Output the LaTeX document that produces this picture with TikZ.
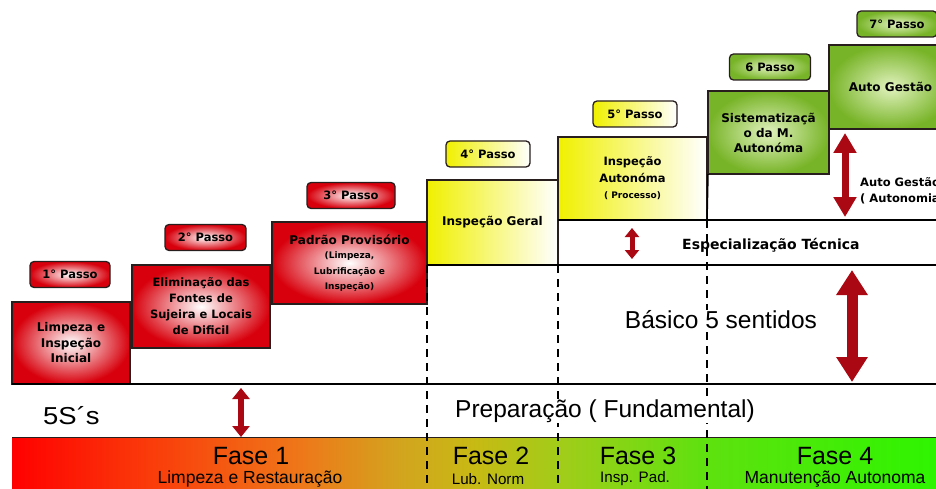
\documentclass[tikz,border=0pt]{standalone}
\usepackage{fontspec}
\usepackage{graphicx}
\setmainfont{Liberation Sans}
\newfontfamily\dejav{DejaVu Sans}
\usetikzlibrary{arrows.meta}
\definecolor{boxred}{RGB}{215,0,12}
\definecolor{boxyel}{RGB}{240,240,0}
\definecolor{boxgrn}{RGB}{120,180,40}
\definecolor{boxgrnin}{RGB}{225,242,190}
\definecolor{arrred}{RGB}{170,8,18}
\definecolor{edge}{RGB}{40,30,30}
\pgfdeclarehorizontalshading{fasebar}{100bp}{%
 color(0bp)=(red!100!black);
 color(25bp)=(red!100!black);
 color(32.5bp)=(rgb,255:red,250;green,60;blue,10);
 color(40.6bp)=(rgb,255:red,238;green,120;blue,25);
 color(46bp)=(rgb,255:red,210;green,165;blue,30);
 color(49.8bp)=(rgb,255:red,200;green,185;blue,20);
 color(54.7bp)=(rgb,255:red,160;green,205;blue,25);
 color(62.2bp)=(rgb,255:red,95;green,225;blue,15);
 color(75bp)=(rgb,255:red,45;green,245;blue,0);
 color(100bp)=(rgb,255:red,45;green,245;blue,0)}
\newcommand\bxf{\fontsize{12}{15.5}\selectfont\dejav\bfseries}
\newcommand\bxt{\fontsize{9}{11}\selectfont\dejav\bfseries}
\begin{document}
\begin{tikzpicture}[x=1pt,y=-1pt,
  stepbox/.style={draw=edge,line width=1.3pt,inner sep=0pt,outer sep=0pt,anchor=north west,align=center,font=\bxf},
  redbox/.style={stepbox,inner color=white,outer color=boxred},
  yelbox/.style={stepbox,left color=boxyel,right color=white},
  grnbox/.style={stepbox,inner color=boxgrnin,outer color=boxgrn},
  passo/.style={draw=edge,line width=1.3pt,rounded corners=4pt,minimum height=26pt,
     inner sep=0pt,font=\fontsize{11.5}{13}\selectfont\dejav\bfseries},
  redpasso/.style={passo,inner color=white,outer color=boxred},
  yelpasso/.style={passo,left color=boxyel,right color=white},
  grnpasso/.style={passo,inner color=boxgrnin,outer color=boxgrn},
  baseline/.style={line width=1.8pt,black},
  dashv/.style={line width=1.8pt,black,dash pattern=on 8pt off 6pt},
  bigarr/.style={arrred,line width=#1},
  plain/.style={inner sep=1pt,fill=white,font=\fontsize{24.5}{28}\selectfont},
  fasetitle/.style={inner sep=0pt,font=\fontsize{25}{28}\selectfont},
  fasesub/.style={inner sep=0pt,font=\fontsize{#1}{18}\selectfont}]
\useasboundingbox (0,0) rectangle (936,489);
\clip (0,0) rectangle (936,489);
% Fase bar
\path[shading=fasebar] (12,437) rectangle (940,492);
\draw[line width=1pt,edge] (12,437) -- (936,437);
% step boxes
\node[redbox,minimum width=118pt,minimum height=82pt] (s1) at (12,302) {Limpeza e\\Inspeção\\Inicial};
\node[redbox,minimum width=138pt,minimum height=83pt,font=\fontsize{11.5}{16}\selectfont\dejav\bfseries] (s2) at (132,265) {Eliminação das\\Fontes de\\Sujeira e Locais\\de Dificil};
\node[redbox,minimum width=155pt,minimum height=82pt] (s3) at (272,222) {Padrão Provisório\\[-1pt]{\bxt (Limpeza,}\\{\bxt Lubrificação e}\\{\bxt Inspeção)}};
\node[yelbox,minimum width=131pt,minimum height=85pt] (s4) at (427,180) {Inspeção Geral};
\node[yelbox,minimum width=149pt,minimum height=83pt,font=\fontsize{11.5}{16.5}\selectfont\dejav\bfseries] (s5) at (558,137) {Inspeção\\Autonóma\\{\bxt ( Processo)}};
\node[grnbox,minimum width=121pt,minimum height=83pt,font=\fontsize{12}{15}\selectfont\dejav\bfseries] (s6) at (708,91) {Sistematizaçã\\o da M.\\Autonóma};
\node[grnbox,minimum width=123pt,minimum height=84pt] (s7) at (829,45) {Auto Gestão};
% passo labels
\node[redpasso,minimum width=80pt] (p1) at (70,274.5) {1° Passo};
\node[redpasso,minimum width=81pt] (p2) at (205.5,237.5) {2° Passo};
\node[redpasso,minimum width=88pt] (p3) at (351,195.5) {3° Passo};
\node[yelpasso,minimum width=84pt] (p4) at (488,154) {4° Passo};
\node[yelpasso,minimum width=84pt] (p5) at (635,114) {5° Passo};
\node[grnpasso,minimum width=81pt] (p6) at (770,67) {6 Passo};
\node[grnpasso,minimum width=80pt] (p7) at (897,24) {7° Passo};
% coordinates
\coordinate (r384) at (936,384);
\coordinate (r265) at (936,265);
\coordinate (r220) at (936,220);
\coordinate (d1) at (427,489);
\coordinate (d2) at (558,489);
\coordinate (k3) at (707,220);
\coordinate (d3) at (707,489);
\coordinate (v2) at (558,265);
% lines
\draw[baseline] (s1.south west) -- (r384);
\draw[baseline] (s4.south west) -- (r265);
\draw[baseline] (s5.south west) -- (r220);
\draw[dashv] (s4.south west) -- (d1);
\draw[dashv] (v2) -- (d2);
\draw[line width=1.5pt] (s6.south west) -- (k3);
\draw[dashv] (k3) -- (d3);
% arrows
\coordinate (a1t) at (241,388); \coordinate (a1b) at (241,437);
\coordinate (a2t) at (632,228); \coordinate (a2b) at (632,259);
\coordinate (a3t) at (852,270); \coordinate (a3b) at (852,382);
\coordinate (a4t) at (845,133); \coordinate (a4b) at (845,217);
\draw[bigarr=6pt,{Triangle[width=17pt,length=11pt]}-{Triangle[width=17pt,length=11pt]}] (a1t) -- (a1b);
\draw[bigarr=5pt,{Triangle[width=14pt,length=9pt]}-{Triangle[width=14pt,length=9pt]}] (a2t) -- (a2b);
\draw[bigarr=11pt,{Triangle[width=30pt,length=25pt]}-{Triangle[width=30pt,length=25pt]}] (a3t) -- (a3b);
\draw[bigarr=7pt,{Triangle[width=22pt,length=20pt]}-{Triangle[width=22pt,length=20pt]}] (a4t) -- (a4b);
% texts
\node[plain,anchor=west] (t5s) at (42,416) {\scalebox{1.12}[1]{5S´s}};
\node[plain,anchor=west] (tprep) at (454,411) {Preparação ( Fundamental)};
\node[plain] (tbas) at (721,320) {Básico 5 sentidos};
\node[inner sep=0pt,font=\fontsize{14}{16}\selectfont\dejav\bfseries,anchor=west] (tesp) at (682,245) {Especialização Técnica};
\node[inner sep=0pt,align=left,anchor=west,font=\fontsize{11.5}{16}\selectfont\dejav\bfseries] (tauto) at (860,191) {Auto Gestão\\( Autonomia)};
% fase texts
\node[fasetitle] (f1) at (251,456) {Fase 1};
\node[fasesub=17.5] (f1s) at (250,479) {Limpeza e Restauração};
\node[fasetitle] (f2) at (491,456) {Fase 2};
\node[fasesub=15.2] (f2s) at (488,479) {Lub. Norm};
\node[fasetitle] (f3) at (638,456) {Fase 3};
\node[fasesub=15.2] (f3s) at (635,479) {Insp. Pad.};
\node[fasetitle] (f4) at (835,456) {Fase 4};
\node[fasesub=17.5] (f4s) at (835,479) {Manutenção Autonoma};
\end{tikzpicture}
\end{document}
